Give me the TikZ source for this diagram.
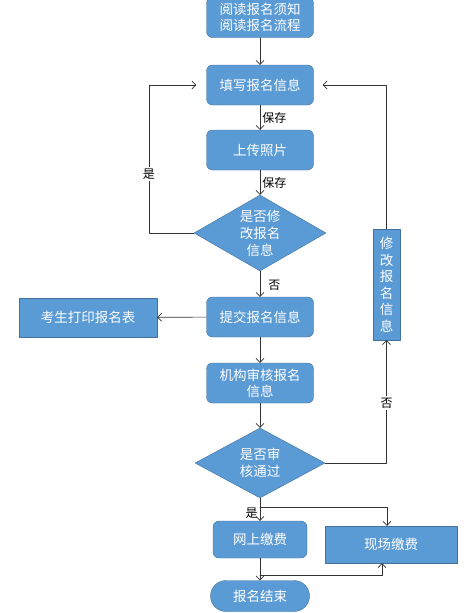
\documentclass[tikz,border=0pt]{standalone}
\usepackage{fontspec}
\usepackage{xcolor}
\usepackage{tikz}
\usetikzlibrary{arrows.meta}
\usetikzlibrary{shapes.geometric}
\setmainfont{Noto Sans CJK SC}
\definecolor{zzbbdd}{rgb}{0.357,0.608,0.835}
\definecolor{ttqqcc}{rgb}{0.255,0.443,0.612}
\definecolor{uuuuuu}{rgb}{0.2,0.2,0.2}
\tikzstyle{every node}=[font=\fontsize{13.5}{16}\selectfont]
\tikzstyle{roundbox}=[draw=ttqqcc,fill=zzbbdd,text=white,rounded corners=6pt,minimum width=107,minimum height=40,align=center,inner sep=1pt]
\tikzstyle{squarebox}=[draw=ttqqcc,fill=zzbbdd,text=white,align=center,inner sep=1pt]
\tikzstyle{decide}=[diamond,draw=ttqqcc,fill=zzbbdd,text=white,align=center,inner sep=0pt,aspect=1.8,font=\fontsize{13.5}{17}\selectfont]
\tikzstyle{flow}=[->,line width=0.6pt,color=uuuuuu]
\tikzstyle{tag}=[font=\fontsize{12}{14}\selectfont,text=black,inner sep=2pt]

\begin{document}
\begin{tikzpicture}[line cap=round,line join=round,>={Straight Barb[length=4pt,width=8pt]},x=1pt,y=-1pt]
\useasboundingbox (0,0) rectangle (475,613);
\node[roundbox,minimum height=40] (read) at (260,17.5) {阅读报名须知\\阅读报名流程};
\node[roundbox] (fill) at (260,85) {填写报名信息};
\node[roundbox] (photo) at (260,150) {上传照片};
\node[decide,minimum width=132,minimum height=76] (edit) at (260,233) {是否修\\改报名\\信息};
\node[roundbox] (submit) at (260,317) {提交报名信息};
\node[squarebox,minimum width=138,minimum height=39] (print) at (88,317.5) {考生打印报名表};
\node[roundbox] (audit) at (260,383) {机构审核报名\\信息};
\node[decide,minimum width=130,minimum height=70] (pass) at (260,463) {是否审\\核通过};
\node[squarebox,minimum width=27,minimum height=111,font=\fontsize{13.5}{16.5}\selectfont] (modify) at (386.5,284.5) {修\\改\\报\\名\\信\\息};
\node[roundbox,minimum width=94,minimum height=37] (online) at (260,539.5) {网上缴费};
\node[squarebox,minimum width=132,minimum height=37] (onsite) at (391,544.5) {现场缴费};
\node[roundbox,minimum width=99,minimum height=31,rounded corners=15.5pt] (finish) at (260,596) {报名结束};
\coordinate (forkA) at (260,507);
\coordinate (forkB) at (260,575);

\draw[flow] (read) -- (fill);
\draw[flow] (fill) -- node[tag,right]{保存} (photo);
\draw[flow] (photo) -- node[tag,right]{保存} (edit);
\draw[flow] (edit.west) -- ++(-45,0) |- node[tag,fill=white,pos=0.2]{是} ([xshift=-10pt]fill.west);
\draw[flow] (edit) -- node[tag,right,pos=0.55,xshift=6pt]{否} (submit);
\draw[flow] (submit) -- (print);
\draw[flow] (submit) -- (audit);
\draw[flow] (audit) -- (pass);
\draw[flow] (pass.east) -| node[tag,fill=white,pos=0.745]{否} (modify.south);
\draw[flow] (modify.north) |- ([xshift=9pt]fill.east);
\draw[flow] (pass) -- node[tag,left,pos=0.65]{是} (online);
\draw[flow] (forkA) -| ([xshift=-4pt]onsite.north);
\draw[flow] (online) -- (finish);
\draw[flow] (forkB) -| ([xshift=-9pt]onsite.south);
\end{tikzpicture}
\end{document}
